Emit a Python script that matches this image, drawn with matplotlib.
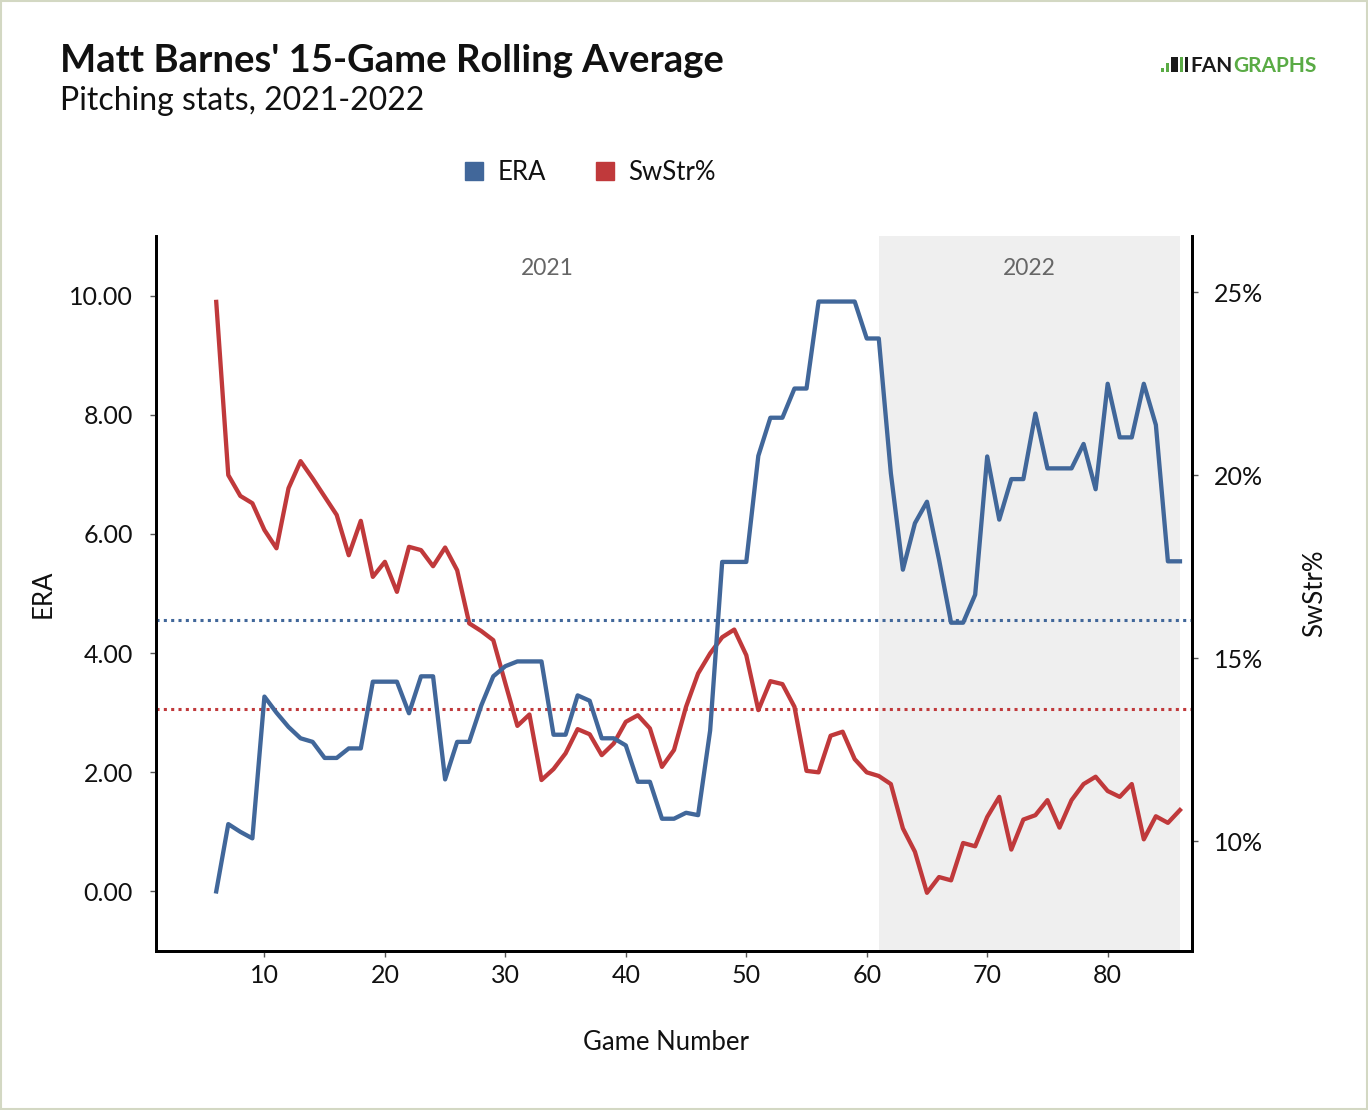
import matplotlib
matplotlib.use("Agg")
import matplotlib.pyplot as plt
from matplotlib.patches import Rectangle
from matplotlib.ticker import FuncFormatter
from matplotlib.lines import Line2D

plt.rcParams['font.family'] = ['Lato', 'DejaVu Sans']

games = list(range(6, 87))
era = [0.00, 1.13, 1.00, 0.89, 3.27, 3.00, 2.76, 2.57, 2.51, 2.24,
       2.24, 2.40, 2.40, 3.52, 3.52, 3.52, 2.99, 3.61, 3.61, 1.88,
       2.51, 2.51, 3.12, 3.61, 3.78, 3.86, 3.86, 3.86, 2.63, 2.63,
       3.29, 3.20, 2.57, 2.57, 2.45, 1.84, 1.84, 1.22, 1.22, 1.32,
       1.28, 2.70, 5.53, 5.53, 5.53, 7.31, 7.95, 7.95, 8.44, 8.44,
       9.90, 9.90, 9.90, 9.90, 9.28, 9.28, 7.02, 5.40, 6.18, 6.54,
       5.57, 4.51, 4.51, 4.98, 7.30, 6.24, 6.92, 6.92, 8.02, 7.10,
       7.10, 7.10, 7.51, 6.75, 8.52, 7.62, 7.62, 8.52, 7.83, 5.54,
       5.54]
swstr = [24.73, 20.00, 19.43, 19.23, 18.50, 18.00, 19.64, 20.38, 19.91, 19.41,
         18.91, 17.81, 18.75, 17.22, 17.63, 16.81, 18.04, 17.95, 17.51, 18.02,
         17.40, 15.95, 15.74, 15.49, 14.31, 13.15, 13.46, 11.67, 11.97, 12.40,
         13.06, 12.92, 12.35, 12.67, 13.26, 13.44, 13.08, 12.03, 12.49, 13.67,
         14.58, 15.13, 15.57, 15.78, 15.08, 13.58, 14.37, 14.29, 13.67, 11.92,
         11.88, 12.88, 12.99, 12.24, 11.88, 11.78, 11.56, 10.35, 9.71, 8.59,
         9.02, 8.93, 9.95, 9.86, 10.66, 11.21, 9.77, 10.59, 10.71, 11.12,
         10.37, 11.12, 11.56, 11.76, 11.37, 11.21, 11.56, 10.05, 10.68, 10.50,
         10.85]
era_avg = 4.55
swstr_avg = 13.61
season_labels = ["2021", "2022"]
season_bounds = [6, 61, 86]

BLUE = "#41679a"
RED = "#c0393b"
GREEN = "#5aab45"

fig = plt.figure(figsize=(13.68, 11.10), dpi=100)
fig.patches.append(Rectangle((0.0006, 0.0006), 0.9988, 0.9988, transform=fig.transFigure,
                             fill=False, edgecolor="#d3d8c3", linewidth=1.5))

ax = fig.add_axes([156 / 1368, 1 - 951 / 1110, 1036 / 1368, 715 / 1110])
ax2 = ax.twinx()
ax.set_zorder(ax2.get_zorder() + 1)
ax.patch.set_visible(False)

ax2.axvspan(season_bounds[1], season_bounds[2], color="#efefef", zorder=0, lw=0)
ax.plot(games, era, color=BLUE, lw=3.1, zorder=3)
ax.axhline(era_avg, color=BLUE, lw=2.2, ls=(0, (1, 1.4)), zorder=2)
ax2.plot(games, swstr, color=RED, lw=3.1, zorder=3)
ax2.axhline(swstr_avg, color=RED, lw=2.2, ls=(0, (1, 1.4)), zorder=2)

ax.set_xlim(1, 87)
ax.set_ylim(-1, 11)
ax2.set_ylim(7.0, 26.53)

ax.set_xticks([10, 20, 30, 40, 50, 60, 70, 80])
ax.set_yticks([0, 2, 4, 6, 8, 10])
ax.yaxis.set_major_formatter(FuncFormatter(lambda v, p: f"{v:.2f}"))
ax2.set_yticks([10, 15, 20, 25])
ax2.yaxis.set_major_formatter(FuncFormatter(lambda v, p: f"{v:.0f}%"))

for a in (ax, ax2):
    a.spines['top'].set_visible(False)
    a.tick_params(labelsize=18, length=4.5, width=1.0, color="#555555", labelcolor="#111111")
    for s in a.spines.values():
        s.set_linewidth(2)
        s.set_color("#000000")
ax.tick_params(axis='y', pad=12)
ax.tick_params(axis='x', pad=5)
ax2.tick_params(axis='y', pad=11)

ax.set_ylabel("ERA", fontsize=18.5, color="#111111")
ax2.set_ylabel("SwStr%", fontsize=18.5, color="#111111")
ax.set_xlabel("Game Number", fontsize=18.5, color="#111111")
ax.yaxis.set_label_coords(-0.097, 0.5)
ax2.yaxis.set_label_coords(1.106, 0.5)
ax.xaxis.set_label_coords(0.492, -0.111)

for lbl, lo, hi in zip(season_labels, season_bounds[:-1], season_bounds[1:]):
    ax.text((lo + hi) / 2, 10.45, lbl, ha='center', va='center', fontsize=16.5, color="#666666")

fig.text(0.044, 0.945, "Matt Barnes' 15-Game Rolling Average", fontsize=27.5, fontweight='bold',
         ha='left', va='center', color="#111111")
fig.text(0.044, 0.909, "Pitching stats, 2021-2022", fontsize=23, ha='left', va='center', color="#111111")

# FanGraphs logo
t_fan = fig.text(1190 / 1368, 1 - 72 / 1110, "FAN", fontsize=15, fontweight='bold', ha='left',
                 va='baseline', color="#1a1a1a")
ax.annotate("GRAPHS", xy=(1, 0), xycoords=t_fan, xytext=(0.5, 0), textcoords='offset points',
            fontsize=15, fontweight='bold', ha='left', va='bottom', color=GREEN, annotation_clip=False)
for (x0, w, h, c) in [(1161, 3, 4, GREEN), (1166, 3, 9, GREEN), (1171, 7, 15, "#1a1a1a"),
                      (1180, 3, 15, GREEN), (1185, 2.5, 15, "#1a1a1a")]:
    fig.patches.append(Rectangle((x0 / 1368, 1 - 72 / 1110), w / 1368, h / 1110,
                                 transform=fig.transFigure, color=c, lw=0))

handles = [Line2D([], [], marker='s', ls='none', color=BLUE, markersize=13),
           Line2D([], [], marker='s', ls='none', color=RED, markersize=13)]
fig.legend(handles, ["ERA", "SwStr%"], loc='center', bbox_to_anchor=(0.431, 0.845), ncol=2,
           frameon=False, fontsize=18.5, handlelength=0.8, handletextpad=0.5, columnspacing=1.9,
           labelcolor="#111111")

fig.savefig("out.png", dpi=100, facecolor="white")
